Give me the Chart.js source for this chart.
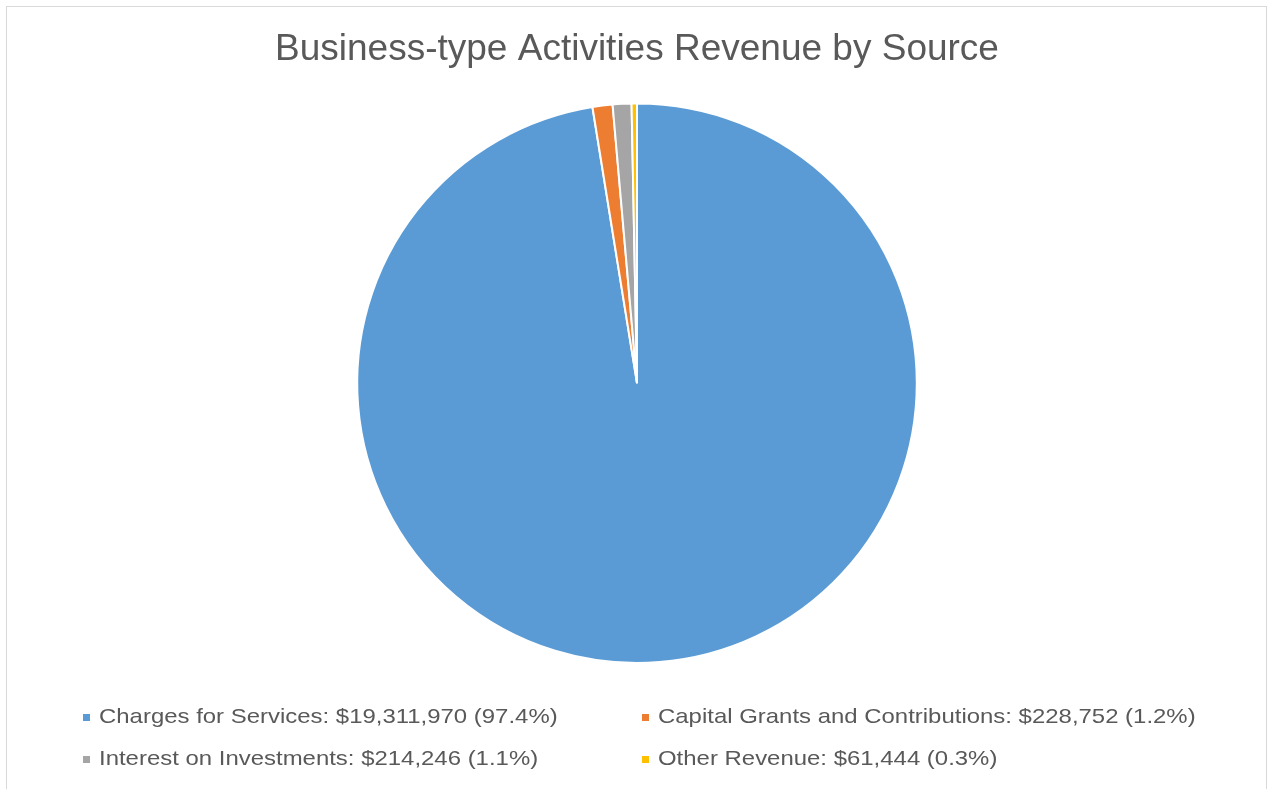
<!DOCTYPE html>
<html>
<head>
<meta charset="utf-8">
<script src="https://cdn.jsdelivr.net/npm/chart.js@4/dist/chart.umd.min.js"></script>
<style>
    body { margin: 0; background: #fff; font-family: "Liberation Sans", Arial, sans-serif; }
    #wrap { position: absolute; left: 0; top: 0; width: 1268px; height: 789px; overflow: hidden; }
    #frame { position: absolute; left: 6px; top: 6px; width: 1259px; height: 800px; border: 1px solid #d9d9d9; }
    #revenueChart { position: absolute; left: 0; top: 0; }
    #legend { position: absolute; left: 0; top: 0; width: 1268px; height: 789px; pointer-events: none; }
    .item { position: absolute; font-size: 21px; color: #595959; white-space: nowrap; line-height: 24px; }
    .item .txt { display: inline-block; transform: scaleX(1.14); transform-origin: left center; }
    .box { position: absolute; width: 7px; height: 7px; top: 10px; left: -16px; }
</style>
</head>
<body>
<div id="wrap">
    <div id="frame"></div>
    <canvas id="revenueChart" width="1268" height="789"></canvas>
    <div id="legend"></div>
</div>
<script>
const sources = ['Charges for Services', 'Capital Grants and Contributions', 'Interest on Investments', 'Other Revenue'];
const amounts = [19311970, 228752, 214246, 61444];
const shares = ['97.4%', '1.2%', '1.1%', '0.3%'];
const colours = ['#5B9BD5', '#ED7D31', '#A5A5A5', '#FFC000'];

// legend grid: two columns, two rows
const legendSpots = [[99, 704], [658, 704], [99, 746], [658, 746]];

let makeChart = function() {
    const ctx = document.getElementById('revenueChart');

    new Chart(ctx, {
        type: 'pie',
        data: {
            labels: sources,
            datasets: [{
                data: amounts,
                backgroundColor: colours,
                borderColor: '#ffffff',
                borderWidth: 2,
            }]
        },
        options: {
            responsive: false,
            animation: false,
            layout: {
                padding: { left: 6, right: 0, top: 0, bottom: 125 }
            },
            plugins: {
                legend: { display: false },
                tooltip: { enabled: false },
                title: {
                    display: true,
                    text: 'Business-type Activities Revenue by Source',
                    color: '#595959',
                    font: { family: '"Liberation Sans", Arial, sans-serif', size: 37, weight: 'normal' },
                    padding: { top: 28, bottom: 30 },
                },
            }
        }
    });

    const legend = document.getElementById('legend');
    sources.forEach((name, i) => {
        const item = document.createElement('div');
        item.className = 'item';
        item.style.left = legendSpots[i][0] + 'px';
        item.style.top = legendSpots[i][1] + 'px';
        const box = document.createElement('span');
        box.className = 'box';
        box.style.background = colours[i];
        const txt = document.createElement('span');
        txt.className = 'txt';
        txt.textContent = name + ': $' + amounts[i].toLocaleString('en-US') + ' (' + shares[i] + ')';
        item.appendChild(box);
        item.appendChild(txt);
        legend.appendChild(item);
    });
}

document.addEventListener('DOMContentLoaded', makeChart, false);
</script>
</body>
</html>
